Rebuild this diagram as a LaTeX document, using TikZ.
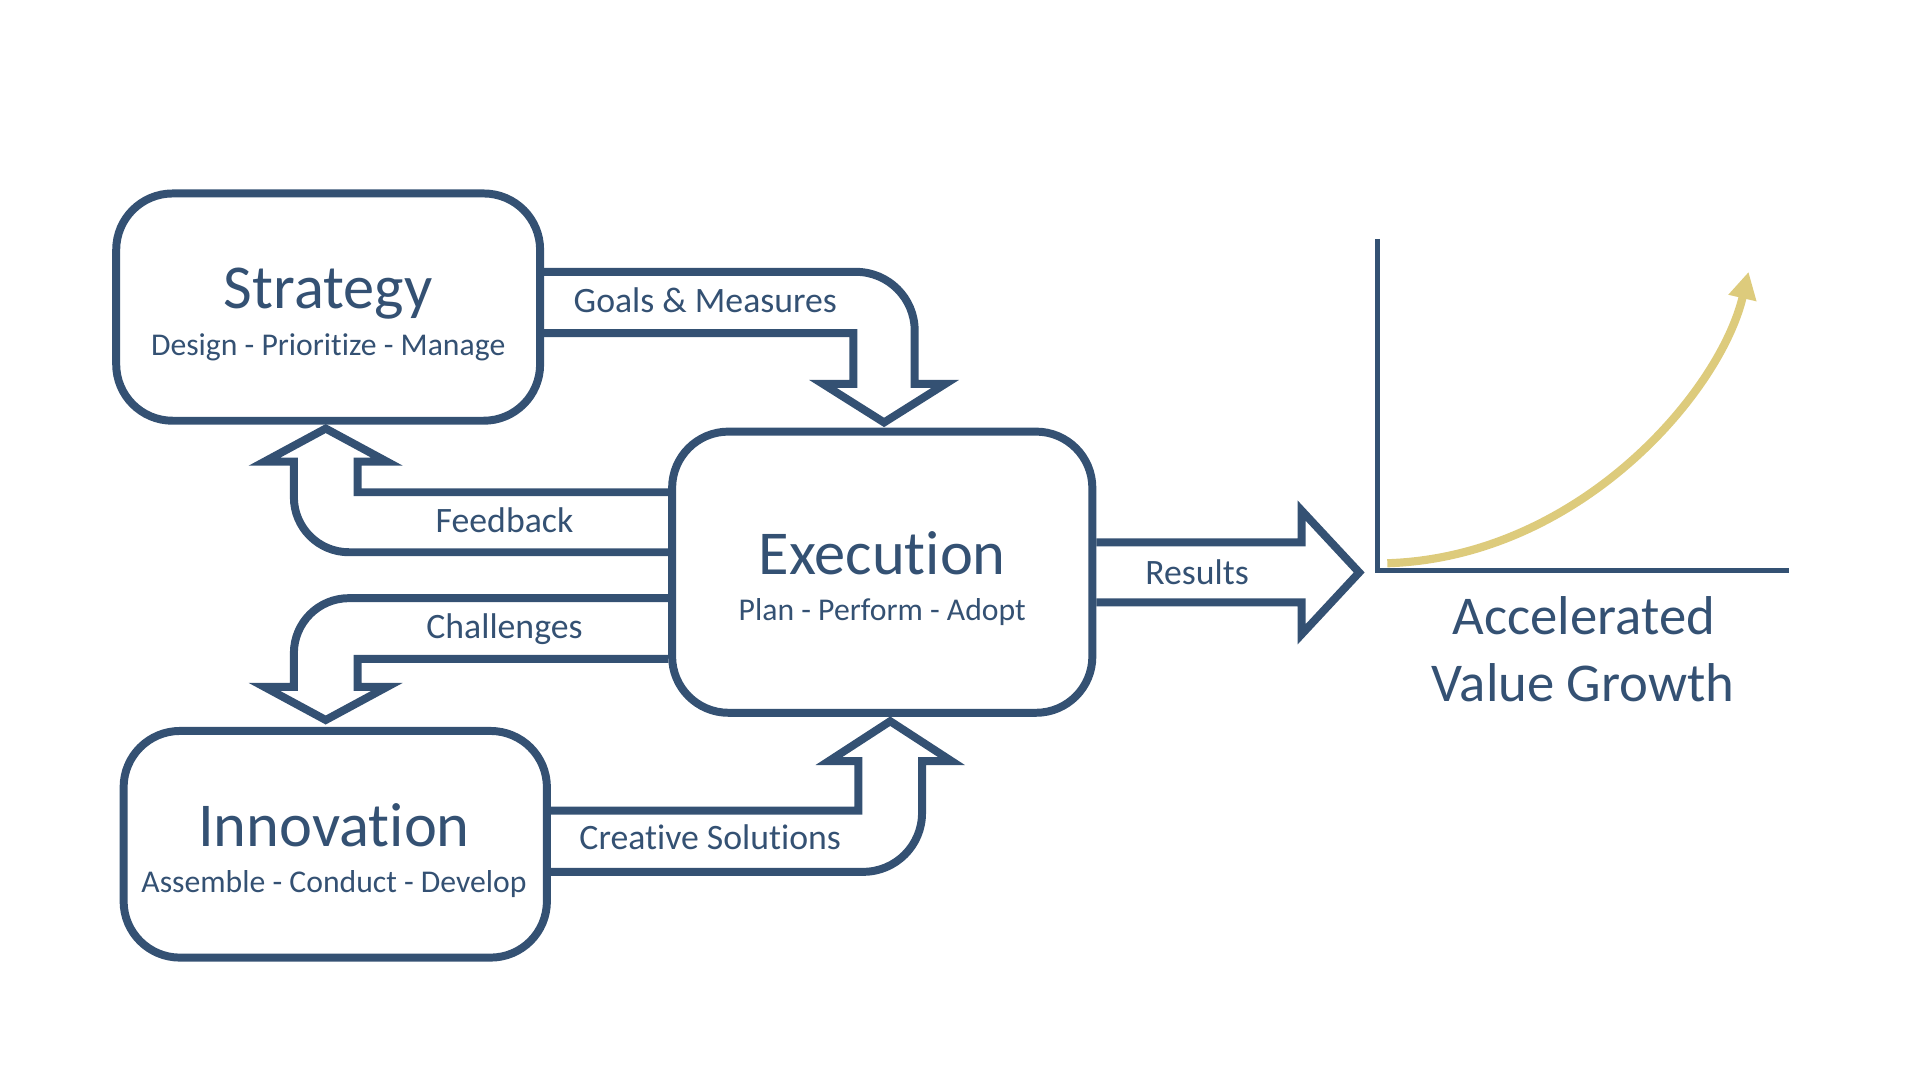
\documentclass[tikz,border=0pt]{standalone}
\usepackage{fontspec}
\setmainfont{Carlito}[RawFeature={-liga;-calt;-clig}]
\usepackage{tikz}
\usetikzlibrary{arrows.meta,calc}
\definecolor{navy}{HTML}{345173}
\definecolor{gold}{HTML}{DDCB7C}
\tikzset{
  box/.style={draw=navy,line width=1.85pt,rounded corners=4.6mm,fill=white,inner sep=0pt},
  boxtitle/.style={font=\fontsize{14.5}{17}\selectfont,text=navy,anchor=base},
  boxsub/.style={font=\fontsize{7.36}{9}\selectfont,text=navy,anchor=base},
  flowlabel/.style={font=\fontsize{8.3}{10}\selectfont,text=navy,anchor=base},
  growthlabel/.style={font=\fontsize{12.7}{15}\selectfont,text=navy,anchor=base},
  blockarr/.style={draw=navy,line width=1.85pt,line join=miter},
  axisline/.style={draw=navy,line width=1.25pt},
  growth/.style={draw=gold,line width=1.9pt,-{Triangle[length=2.2mm,width=2.2mm]}},
}
\begin{document}
\begin{tikzpicture}[x=0.01cm,y=-0.01cm]
  \useasboundingbox (0,0) rectangle (1568,882);
  \node[box,minimum width=3.46cm,minimum height=1.855cm] (strat) at (268,250.8) {};
  \node[box,minimum width=3.43cm,minimum height=2.295cm] (exe) at (720.5,467.3) {};
  \node[box,minimum width=3.455cm,minimum height=1.85cm] (inno) at (273.8,689.5) {};
  \node[boxtitle] (strat-t) at ($(strat)+(0,1.5)$) {Strategy};
  \node[boxsub] (strat-s) at ($(strat)+(0,39.5)$) {Design - Prioritize - Manage};
  \node[boxtitle] (exe-t) at ($(exe)+(0,1.5)$) {Execution};
  \node[boxsub] (exe-s) at ($(exe)+(0,39.5)$) {Plan - Perform - Adopt};
  \node[boxtitle] (inno-t) at ($(inno)+(-1,1.5)$) {Innovation};
  \node[boxsub] (inno-s) at ($(inno)+(-1,39.5)$) {Assemble - Conduct - Develop};
  \draw[blockarr] (strat.east |- 0,222) -- (699,222) .. controls (725.5,222) and (747,243.5) .. (747,270)
    -- (747,313.5) -- (772,313.5) -- (722,345) -- (672,313.5) -- (697,313.5) -- (697,272) -- (strat.east |- 0,272);
  \draw[blockarr] (exe.west |- 0,402) -- (292,402) -- (292,377) -- (316,377) -- (266,350) -- (216,377) -- (240,377)
    -- (240,406) .. controls (240,430.9) and (260.1,451) .. (285,451) -- (exe.west |- 0,451);
  \draw[blockarr] (exe.west |- 0,488.5) -- (285,488.5) .. controls (260.1,488.5) and (240,508.6) .. (240,533.5)
    -- (240,561) -- (216,561) -- (266,588) -- (316,561) -- (292,561) -- (292,538) -- (exe.west |- 0,538);
  \draw[blockarr] (inno.east |- 0,662) -- (701,662) -- (701,621.5) -- (677,621.5) -- (727,589) -- (777,621.5) -- (753,621.5)
    -- (753,664) .. controls (753,690.5) and (731.5,712) .. (705,712) -- (inno.east |- 0,712);
  \draw[blockarr] (exe.east |- 0,443) -- (1063,443) -- (1063,417) -- (1110,467.5) -- (1063,518) -- (1063,492) -- (exe.east |- 0,492);
  \node[flowlabel] (gm) at (576,255.1) {Goals \& Measures};
  \node[flowlabel] (fb) at (412,435) {Feedback};
  \node[flowlabel] (ch) at (412,521.7) {Challenges};
  \node[flowlabel] (cs) at (580,693.4) {Creative Solutions};
  \node[flowlabel] (res) at (977.6,477.2) {Results};
  \coordinate (org) at (1125,466);
  \draw[axisline] (org |- 0,195) -- (org) -- (org -| 1461,0);
  \draw[growth] (1133,460) .. controls (1290,455) and (1405,320) .. (1428,222);
  \node[growthlabel] (acc) at (1293.5,518) {Accelerated};
  \node[growthlabel] (vg) at (1293,573) {Value Growth};
\end{tikzpicture}
\end{document}
